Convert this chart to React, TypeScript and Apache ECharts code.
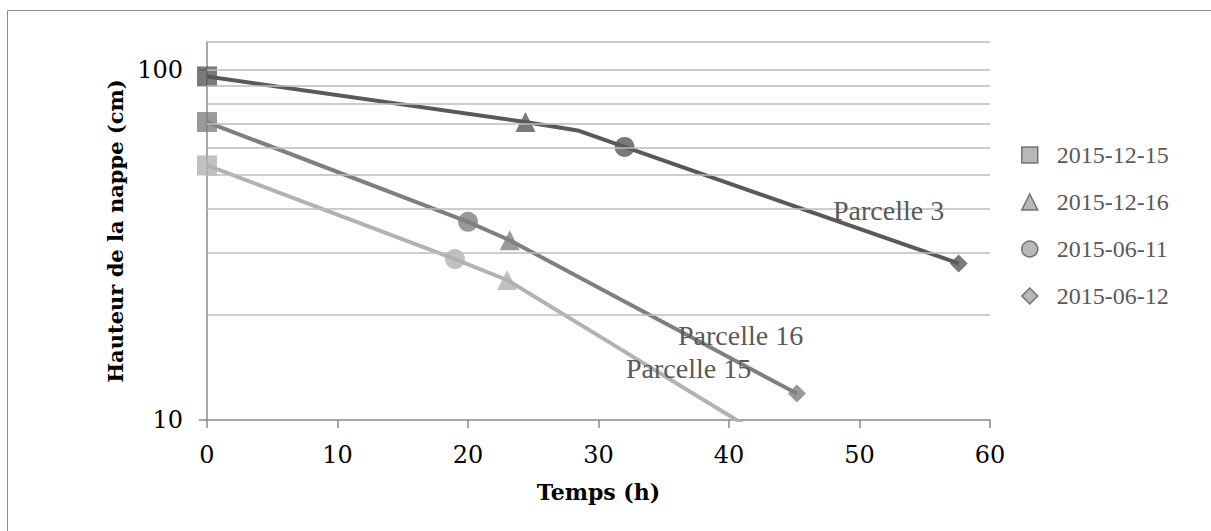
import React, { useEffect, useRef } from 'react';
import * as echarts from 'echarts';

const DATES = ['2015-12-15', '2015-12-16', '2015-06-11', '2015-06-12'];
const DATE_SYMBOLS = ['rect', 'triangle', 'circle', 'diamond'];
const DATE_SYMBOL_SIZES = [20, 20, 20, 18];

const PARCELLES = ['Parcelle 3', 'Parcelle 16', 'Parcelle 15'];
const PARCELLE_COLORS = ['#595959', '#7f7f7f', '#b2b2b2'];

// time (h), height (cm), date index of the marker (-1 = no marker)
const P3_TIME = [0, 24.4, 28.4, 32.0, 57.6];
const P3_HEIGHT = [95.7, 70.9, 67.1, 60.2, 28.0];
const P3_DATE = [0, 1, -1, 2, 3];

const P16_TIME = [0, 20.0, 23.2, 45.2];
const P16_HEIGHT = [70.9, 36.8, 32.6, 11.9];
const P16_DATE = [0, 2, 1, 3];

const P15_TIME = [0, 19.0, 23.0, 45.2];
const P15_HEIGHT = [53.3, 28.8, 25.1, 7.85];
const P15_DATE = [0, 2, 1, 3];

const Y_LABELS = [10, 100];
const Y_GRID = [20, 30, 40, 50, 60, 70, 80, 90, 100, 120];

const PARCELLE_DATA = [
  { time: P3_TIME, height: P3_HEIGHT, date: P3_DATE },
  { time: P16_TIME, height: P16_HEIGHT, date: P16_DATE },
  { time: P15_TIME, height: P15_HEIGHT, date: P15_DATE },
];

const LABEL_FONT = '"DejaVu Serif", serif';
const LEGEND_FONT = '"Liberation Serif", "Times New Roman", serif';

export default function App() {
  const ref = useRef<HTMLDivElement>(null);

  useEffect(() => {
    if (!ref.current) return;
    const chart = echarts.init(ref.current, undefined, { renderer: 'svg' });

    const lineSeries = PARCELLE_DATA.map((p, i) => ({
      type: 'line',
      name: PARCELLES[i],
      data: p.time.map((t, k) => [t, p.height[k]]),
      symbol: 'none',
      showSymbol: false,
      clip: true,
      silent: true,
      z: 2,
      lineStyle: { color: PARCELLE_COLORS[i], width: 4 },
      itemStyle: { color: PARCELLE_COLORS[i] },
    }));

    const dateSeries = DATES.map((d, di) => {
      const data: any[] = [];
      PARCELLE_DATA.forEach((p, pi) => {
        p.date.forEach((dd, k) => {
          if (dd === di) {
            data.push({
              value: [p.time[k], p.height[k]],
              itemStyle: { color: PARCELLE_COLORS[pi], borderWidth: 0 },
            });
          }
        });
      });
      return {
        type: 'scatter',
        name: d,
        symbol: DATE_SYMBOLS[di],
        symbolSize: DATE_SYMBOL_SIZES[di],
        clip: true,
        silent: true,
        z: 3,
        itemStyle: { color: '#a6a6a6', borderColor: '#595959', borderWidth: 1.5 },
        data,
      };
    });

    const gridSeries = {
      type: 'scatter',
      name: 'grid',
      data: [],
      silent: true,
      z: 1,
      markLine: {
        silent: true,
        symbol: ['none', 'none'],
        label: { show: false },
        lineStyle: { color: '#bdbdbd', width: 1.5, type: 'solid' },
        data: Y_GRID.map((v) => ({ yAxis: v })),
      },
    };

    chart.setOption({
      animation: false,
      backgroundColor: '#ffffff',
      grid: { left: 207, top: 42, right: 221, bottom: 111 },
      legend: {
        data: DATES,
        orient: 'vertical',
        left: 1016,
        top: 138,
        itemWidth: 16,
        itemHeight: 16,
        itemGap: 23,
        selectedMode: false,
        itemStyle: { color: '#a6a6a6', borderColor: '#595959', borderWidth: 1.5 },
        formatter: (name: string) => '{a|' + name + '}',
        textStyle: {
          rich: {
            a: {
              fontFamily: LEGEND_FONT,
              fontSize: 24,
              lineHeight: 24,
              color: '#595959',
              padding: [0, 0, 0, 14],
            },
          },
        },
      },
      xAxis: {
        type: 'value',
        min: 0,
        max: 60,
        interval: 10,
        name: 'Temps (h)',
        nameLocation: 'middle',
        nameGap: 61,
        nameTextStyle: { fontFamily: LABEL_FONT, fontWeight: 'bold', fontSize: 22, color: '#000' },
        axisLine: { show: true, lineStyle: { color: '#8a8a8a', width: 1.5 } },
        axisTick: { show: true, length: 8, lineStyle: { color: '#8a8a8a', width: 1.5 } },
        axisLabel: { fontFamily: LABEL_FONT, fontSize: 24, color: '#000', margin: 23 },
        splitLine: { show: false },
      },
      yAxis: {
        type: 'log',
        logBase: 10,
        min: 10,
        max: 120,
        name: 'Hauteur de la nappe (cm)',
        nameLocation: 'middle',
        nameGap: 79,
        nameTextStyle: { fontFamily: LABEL_FONT, fontWeight: 'bold', fontSize: 21, color: '#000' },
        axisLine: { show: true, lineStyle: { color: '#8a8a8a', width: 1.5 } },
        axisTick: { show: true, length: 8, customValues: Y_LABELS, lineStyle: { color: '#8a8a8a', width: 1.5 } },
        axisLabel: {
          fontFamily: LABEL_FONT,
          fontSize: 24,
          color: '#000',
          margin: 24,
          customValues: Y_LABELS,
          formatter: (v: number) => {
            const r = Math.round(v);
            return Y_LABELS.indexOf(r) >= 0 ? String(r) : '';
          },
        },
        splitLine: { show: false },
        minorSplitLine: { show: false },
      },
      graphic: [
        {
          type: 'rect',
          silent: true,
          shape: { x: 7.5, y: 10.5, width: 1215, height: 540 },
          style: { fill: 'none', stroke: '#8c8c8c', lineWidth: 1 },
        },
        {
          type: 'text',
          left: 833,
          top: 196,
          silent: true,
          z: 10,
          style: { text: PARCELLES[0], font: '28px ' + LEGEND_FONT, fill: '#595959' },
        },
        {
          type: 'text',
          left: 678,
          top: 321,
          silent: true,
          z: 10,
          style: { text: PARCELLES[1], font: '28px ' + LEGEND_FONT, fill: '#595959' },
        },
        {
          type: 'text',
          left: 626,
          top: 354,
          silent: true,
          z: 10,
          style: { text: PARCELLES[2], font: '28px ' + LEGEND_FONT, fill: '#595959' },
        },
      ],
      series: [gridSeries, ...lineSeries, ...dateSeries],
    });

    return () => chart.dispose();
  }, []);

  return (
    <div
      ref={ref}
      style={{ position: 'fixed', left: 0, top: 0, width: 1211, height: 531, background: '#fff' }}
    />
  );
}
